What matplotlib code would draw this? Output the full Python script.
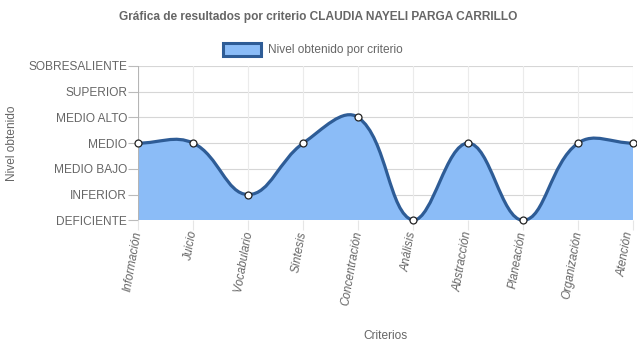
import numpy as np
import matplotlib
matplotlib.use("Agg")
import matplotlib.pyplot as plt
import matplotlib.transforms as mtransforms
from matplotlib.path import Path
from matplotlib.patches import PathPatch, Rectangle

plt.rcParams['font.family'] = ['Liberation Sans', 'DejaVu Sans']

criterios = ['Información', 'Juicio', 'Vocabulario', 'Síntesis', 'Concentración',
             'Análisis', 'Abstracción', 'Planeación', 'Organización', 'Atención']
niveles = ['DEFICIENTE', 'INFERIOR', 'MEDIO BAJO', 'MEDIO', 'MEDIO ALTO',
           'SUPERIOR', 'SOBRESALIENTE']
valores = [3, 3, 1, 3, 4, 0, 3, 0, 3, 3]

W, H = 637, 348
left, right, top, bottom = 138.3, 633.0, 66.0, 220.3
fill_col = '#8bbcf7'
line_col = '#2e5c96'
txt_col = '#666666'
fs = 8.6

fig = plt.figure(figsize=(W / 100, H / 100), dpi=100)
ax = fig.add_axes([left / W, 1 - bottom / H, (right - left) / W, (bottom - top) / H])
ax.set_xlim(0, len(criterios) - 1)
ax.set_ylim(0, len(niveles) - 1)

# Chart.js style spline (tension 0.4) computed in pixel space
sx = (right - left) / (len(criterios) - 1)
sy = (bottom - top) / (len(niveles) - 1)
px = np.arange(len(valores)) * sx
py = np.array(valores, dtype=float) * sy
t = 0.4
cps = []
n = len(px)
for i in range(n):
    a = i - 1 if i > 0 else i
    b = i + 1 if i < n - 1 else i
    d01 = np.hypot(px[i] - px[a], py[i] - py[a])
    d12 = np.hypot(px[b] - px[i], py[b] - py[i])
    tot = d01 + d12
    s01 = d01 / tot if tot else 0
    s12 = d12 / tot if tot else 0
    fa, fb = t * s01, t * s12
    cp_prev = [px[i] - fa * (px[b] - px[a]), py[i] - fa * (py[b] - py[a])]
    cp_next = [px[i] + fb * (px[b] - px[a]), py[i] + fb * (py[b] - py[a])]
    for cp in (cp_prev, cp_next):
        cp[0] = min(max(cp[0], 0), px[-1])
        cp[1] = min(max(cp[1], 0), (len(niveles) - 1) * sy)
    cps.append((cp_prev, cp_next))

verts = [(px[0] / sx, py[0] / sy)]
codes = [Path.MOVETO]
for i in range(1, n):
    c1 = cps[i - 1][1]
    c2 = cps[i][0]
    verts += [(c1[0] / sx, c1[1] / sy), (c2[0] / sx, c2[1] / sy), (px[i] / sx, py[i] / sy)]
    codes += [Path.CURVE4] * 3

fill_path = Path(verts + [(n - 1, 0), (0, 0), (0, 0)],
                 codes + [Path.LINETO, Path.LINETO, Path.CLOSEPOLY])
ax.add_patch(PathPatch(fill_path, facecolor=fill_col, edgecolor='none', zorder=1))
ax.add_patch(PathPatch(Path(verts, codes), facecolor='none', edgecolor=line_col,
                       lw=2.3, zorder=3, clip_on=False))
ax.plot(range(n), valores, 'o', ms=5, mfc='white', mec='#222222', mew=0.9,
        zorder=4, clip_on=False)

# grid and ticks
ax.set_yticks(range(len(niveles)))
ax.set_yticklabels(niveles, fontsize=fs, color=txt_col)
ax.set_xticks(range(n))
ax.set_xticklabels([])
for k, lab in enumerate(criterios):
    dx = -3.5 if k == n - 1 else 0
    tr = ax.get_xaxis_transform() + mtransforms.ScaledTranslation(
        dx / 100, -11 / 100, fig.dpi_scale_trans)
    ax.text(k, 0, lab, transform=tr, fontsize=8.4, color=txt_col, rotation=80,
            ha='right', va='center', rotation_mode='anchor', style='italic',
            clip_on=False)
ax.tick_params(axis='y', length=7, width=0.8, color='#bbbbbb', pad=1)
ax.tick_params(axis='x', length=7, width=0.8, color='#e6e6e6', pad=3)
for y in range(len(niveles)):
    ax.axhline(y, color='#d6d6d6', lw=0.8, zorder=0)
for x in range(n):
    ax.axvline(x, color='#ebebeb', lw=0.8, zorder=0)
for s in ax.spines.values():
    s.set_visible(False)
ax.axvline(0, color='#b5b5b5', lw=0.8, zorder=2)

fig.text(385.6 / W, 1 - 336 / H, 'Criterios', fontsize=fs, color=txt_col,
         ha='center', va='center')
fig.text(12 / W, 1 - 143 / H, 'Nivel obtenido', rotation=90, fontsize=fs,
         color=txt_col, ha='center', va='center')

fig.text(318 / W, 1 - 17 / H,
         'Gráfica de resultados por criterio CLAUDIA NAYELI PARGA CARRILLO',
         fontsize=fs, fontweight='bold', color=txt_col, ha='center', va='center')

# legend
fig.patches.append(Rectangle((222.5 / W, 1 - 56 / H), 38.5 / W, 13 / H,
                             transform=fig.transFigure, facecolor=fill_col,
                             edgecolor=line_col, lw=2.2))
fig.text(268 / W, 1 - 49.5 / H, 'Nivel obtenido por criterio', fontsize=fs,
         color=txt_col, ha='left', va='center')

fig.savefig('out.png', dpi=100)
